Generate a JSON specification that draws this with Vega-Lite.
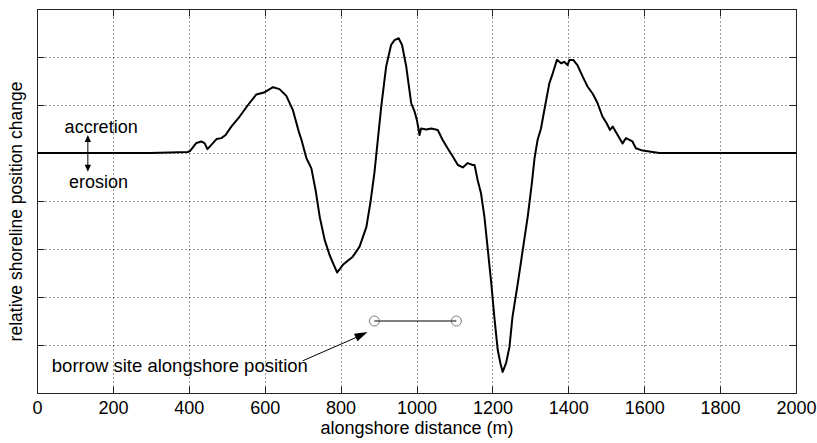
{
  "$schema": "https://vega.github.io/schema/vega-lite/v6.json",
  "width": 759,
  "height": 384,
  "autosize": "none",
  "padding": {"left": 37, "top": 9, "right": 21, "bottom": 50},
  "background": "white",
  "config": {
    "view": {"stroke": "#222", "strokeWidth": 1},
    "font": "Liberation Sans",
    "axis": {
      "labelFont": "Liberation Sans",
      "titleFont": "Liberation Sans",
      "labelColor": "black",
      "titleColor": "black",
      "titleFontWeight": "normal",
      "tickColor": "#222",
      "domain": false
    }
  },
  "datasets": {
    "curve": [
      {"x": 0, "y": 0}, {"x": 297, "y": 0}, {"x": 350, "y": 0.01}, {"x": 397, "y": 0.02},
      {"x": 403, "y": 0.04}, {"x": 420, "y": 0.21}, {"x": 433, "y": 0.24}, {"x": 442, "y": 0.2},
      {"x": 449, "y": 0.08}, {"x": 457, "y": 0.15}, {"x": 473, "y": 0.29}, {"x": 486, "y": 0.31},
      {"x": 497, "y": 0.375}, {"x": 512, "y": 0.55}, {"x": 534, "y": 0.76}, {"x": 556, "y": 1.0},
      {"x": 578, "y": 1.22}, {"x": 598, "y": 1.26}, {"x": 622, "y": 1.37}, {"x": 639, "y": 1.33},
      {"x": 657, "y": 1.19}, {"x": 674, "y": 0.9}, {"x": 690, "y": 0.44}, {"x": 697, "y": 0.27},
      {"x": 710, "y": -0.11}, {"x": 723, "y": -0.32}, {"x": 734, "y": -0.77}, {"x": 745, "y": -1.33},
      {"x": 758, "y": -1.81}, {"x": 771, "y": -2.125}, {"x": 782, "y": -2.33}, {"x": 791, "y": -2.49},
      {"x": 806, "y": -2.33}, {"x": 832, "y": -2.16}, {"x": 850, "y": -1.95}, {"x": 868, "y": -1.54},
      {"x": 879, "y": -1.01}, {"x": 889, "y": -0.42}, {"x": 898, "y": 0.27}, {"x": 907, "y": 0.96},
      {"x": 920, "y": 1.8}, {"x": 933, "y": 2.25}, {"x": 942, "y": 2.35}, {"x": 953, "y": 2.39},
      {"x": 962, "y": 2.25}, {"x": 973, "y": 1.8}, {"x": 986, "y": 1.04}, {"x": 995, "y": 0.86},
      {"x": 1001, "y": 0.69}, {"x": 1008, "y": 0.375}, {"x": 1012, "y": 0.51}, {"x": 1026, "y": 0.49},
      {"x": 1039, "y": 0.51}, {"x": 1056, "y": 0.48}, {"x": 1069, "y": 0.27}, {"x": 1082, "y": 0.1},
      {"x": 1096, "y": -0.08}, {"x": 1109, "y": -0.25}, {"x": 1122, "y": -0.3}, {"x": 1135, "y": -0.21},
      {"x": 1148, "y": -0.25}, {"x": 1153, "y": -0.25}, {"x": 1161, "y": -0.56}, {"x": 1170, "y": -0.84},
      {"x": 1179, "y": -1.33}, {"x": 1188, "y": -2.02}, {"x": 1197, "y": -2.71}, {"x": 1205, "y": -3.41},
      {"x": 1214, "y": -4.1}, {"x": 1221, "y": -4.38}, {"x": 1227, "y": -4.56}, {"x": 1236, "y": -4.38},
      {"x": 1245, "y": -4.04}, {"x": 1253, "y": -3.41}, {"x": 1267, "y": -2.71}, {"x": 1280, "y": -2.02},
      {"x": 1293, "y": -1.33}, {"x": 1304, "y": -0.63}, {"x": 1311, "y": -0.11}, {"x": 1319, "y": 0.27},
      {"x": 1328, "y": 0.51}, {"x": 1337, "y": 0.9}, {"x": 1350, "y": 1.45}, {"x": 1359, "y": 1.66},
      {"x": 1370, "y": 1.94}, {"x": 1381, "y": 1.87}, {"x": 1389, "y": 1.9}, {"x": 1398, "y": 1.83},
      {"x": 1403, "y": 1.94}, {"x": 1413, "y": 1.94}, {"x": 1424, "y": 1.83}, {"x": 1438, "y": 1.59},
      {"x": 1451, "y": 1.38}, {"x": 1464, "y": 1.24}, {"x": 1477, "y": 1.04}, {"x": 1490, "y": 0.76},
      {"x": 1501, "y": 0.62}, {"x": 1510, "y": 0.48}, {"x": 1517, "y": 0.55}, {"x": 1530, "y": 0.375},
      {"x": 1543, "y": 0.2}, {"x": 1552, "y": 0.31}, {"x": 1569, "y": 0.24}, {"x": 1578, "y": 0.1},
      {"x": 1596, "y": 0.05}, {"x": 1622, "y": 0.02}, {"x": 1640, "y": 0}, {"x": 2000, "y": 0}
    ],
    "borrow": [{"x": 889, "y": -3.5}, {"x": 1105, "y": -3.5}],
    "arrows": [
      {"x": 700, "y": -4.33, "x2": 865, "y2": -3.76},
      {"x": 134, "y": 0.3, "x2": 134, "y2": -0.3}
    ],
    "heads": [
      {"x": 871, "y": -3.73, "angle": -25, "kind": "big"},
      {"x": 134, "y": 0.375, "angle": -90, "kind": "small"},
      {"x": 134, "y": -0.39, "angle": 90, "kind": "small"}
    ],
    "labels": [
      {"x": 169, "y": 0.52, "text": "accretion"},
      {"x": 162, "y": -0.625, "text": "erosion"}
    ],
    "leftlabels": [
      {"x": 39, "y": -4.44, "text": "borrow site alongshore position"}
    ]
  },
  "resolve": {"axis": {"x": "independent", "y": "independent"}},
  "layer": [
    {
      "data": {"name": "curve"},
      "mark": {"type": "line", "color": "black", "strokeWidth": 2, "strokeJoin": "round"},
      "encoding": {
        "x": {
          "field": "x", "type": "quantitative",
          "scale": {"domain": [0, 2000], "nice": false, "zero": false},
          "axis": {
            "orient": "bottom",
            "title": "alongshore distance (m)",
            "titleFontSize": 18,
            "titleY": 35,
            "titleBaseline": "middle",
            "labelFontSize": 18,
            "format": "d",
            "values": [0, 200, 400, 600, 800, 1000, 1200, 1400, 1600, 1800, 2000],
            "tickSize": -7,
            "labelPadding": 13,
            "labelFlush": false,
            "labelOverlap": false,
            "grid": true,
            "gridDash": [1, 3],
            "gridColor": "#333",
            "gridWidth": 1
          }
        },
        "y": {
          "field": "y", "type": "quantitative",
          "scale": {"domain": [-5, 3], "nice": false, "zero": false},
          "axis": {
            "orient": "left",
            "title": "relative shoreline position change",
            "titleFontSize": 17.5,
            "titleAngle": -90,
            "titleBaseline": "bottom",
            "titleX": -12,
            "titleY": 202,
            "labels": false,
            "values": [-5, -4, -3, -2, -1, 0, 1, 2, 3],
            "tickSize": -7,
            "grid": true,
            "gridDash": [1, 3],
            "gridColor": "#333",
            "gridWidth": 1
          }
        }
      }
    },
    {
      "data": {"name": "borrow"},
      "mark": {"type": "line", "color": "black", "strokeWidth": 1},
      "encoding": {
        "x": {
          "field": "x", "type": "quantitative",
          "axis": {
            "orient": "top", "title": null, "labels": false, "grid": false,
            "values": [0, 200, 400, 600, 800, 1000, 1200, 1400, 1600, 1800, 2000],
            "tickSize": -7
          }
        },
        "y": {
          "field": "y", "type": "quantitative",
          "axis": {
            "orient": "right", "title": null, "labels": false, "grid": false,
            "values": [-5, -4, -3, -2, -1, 0, 1, 2, 3],
            "tickSize": -7
          }
        }
      }
    },
    {
      "data": {"name": "borrow"},
      "mark": {"type": "point", "shape": "circle", "filled": false, "size": 100, "stroke": "#444", "strokeWidth": 1},
      "encoding": {
        "x": {"field": "x", "type": "quantitative", "axis": null},
        "y": {"field": "y", "type": "quantitative", "axis": null}
      }
    },
    {
      "data": {"name": "arrows"},
      "mark": {"type": "rule", "color": "black", "strokeWidth": 1},
      "encoding": {
        "x": {"field": "x", "type": "quantitative", "axis": null},
        "y": {"field": "y", "type": "quantitative", "axis": null},
        "x2": {"field": "x2"},
        "y2": {"field": "y2"}
      }
    },
    {
      "data": {"name": "heads"},
      "transform": [{"filter": "datum.kind === 'big'"}],
      "mark": {"type": "point", "shape": "M0,0L-1,-0.32L-1,0.32Z", "filled": true, "color": "black", "opacity": 1, "size": 676},
      "encoding": {
        "x": {"field": "x", "type": "quantitative", "axis": null},
        "y": {"field": "y", "type": "quantitative", "axis": null},
        "angle": {"field": "angle", "type": "quantitative", "scale": null}
      }
    },
    {
      "data": {"name": "heads"},
      "transform": [{"filter": "datum.kind === 'small'"}],
      "mark": {"type": "point", "shape": "M0,0L-1,-0.45L-1,0.45Z", "filled": true, "color": "black", "opacity": 1, "size": 196},
      "encoding": {
        "x": {"field": "x", "type": "quantitative", "axis": null},
        "y": {"field": "y", "type": "quantitative", "axis": null},
        "angle": {"field": "angle", "type": "quantitative", "scale": null}
      }
    },
    {
      "data": {"name": "labels"},
      "mark": {"type": "text", "font": "Liberation Sans", "fontSize": 18, "color": "black", "align": "center", "baseline": "middle"},
      "encoding": {
        "x": {"field": "x", "type": "quantitative", "axis": null},
        "y": {"field": "y", "type": "quantitative", "axis": null},
        "text": {"field": "text"}
      }
    },
    {
      "data": {"name": "leftlabels"},
      "mark": {"type": "text", "font": "Liberation Sans", "fontSize": 18.5, "color": "black", "align": "left", "baseline": "middle"},
      "encoding": {
        "x": {"field": "x", "type": "quantitative", "axis": null},
        "y": {"field": "y", "type": "quantitative", "axis": null},
        "text": {"field": "text"}
      }
    }
  ]
}
